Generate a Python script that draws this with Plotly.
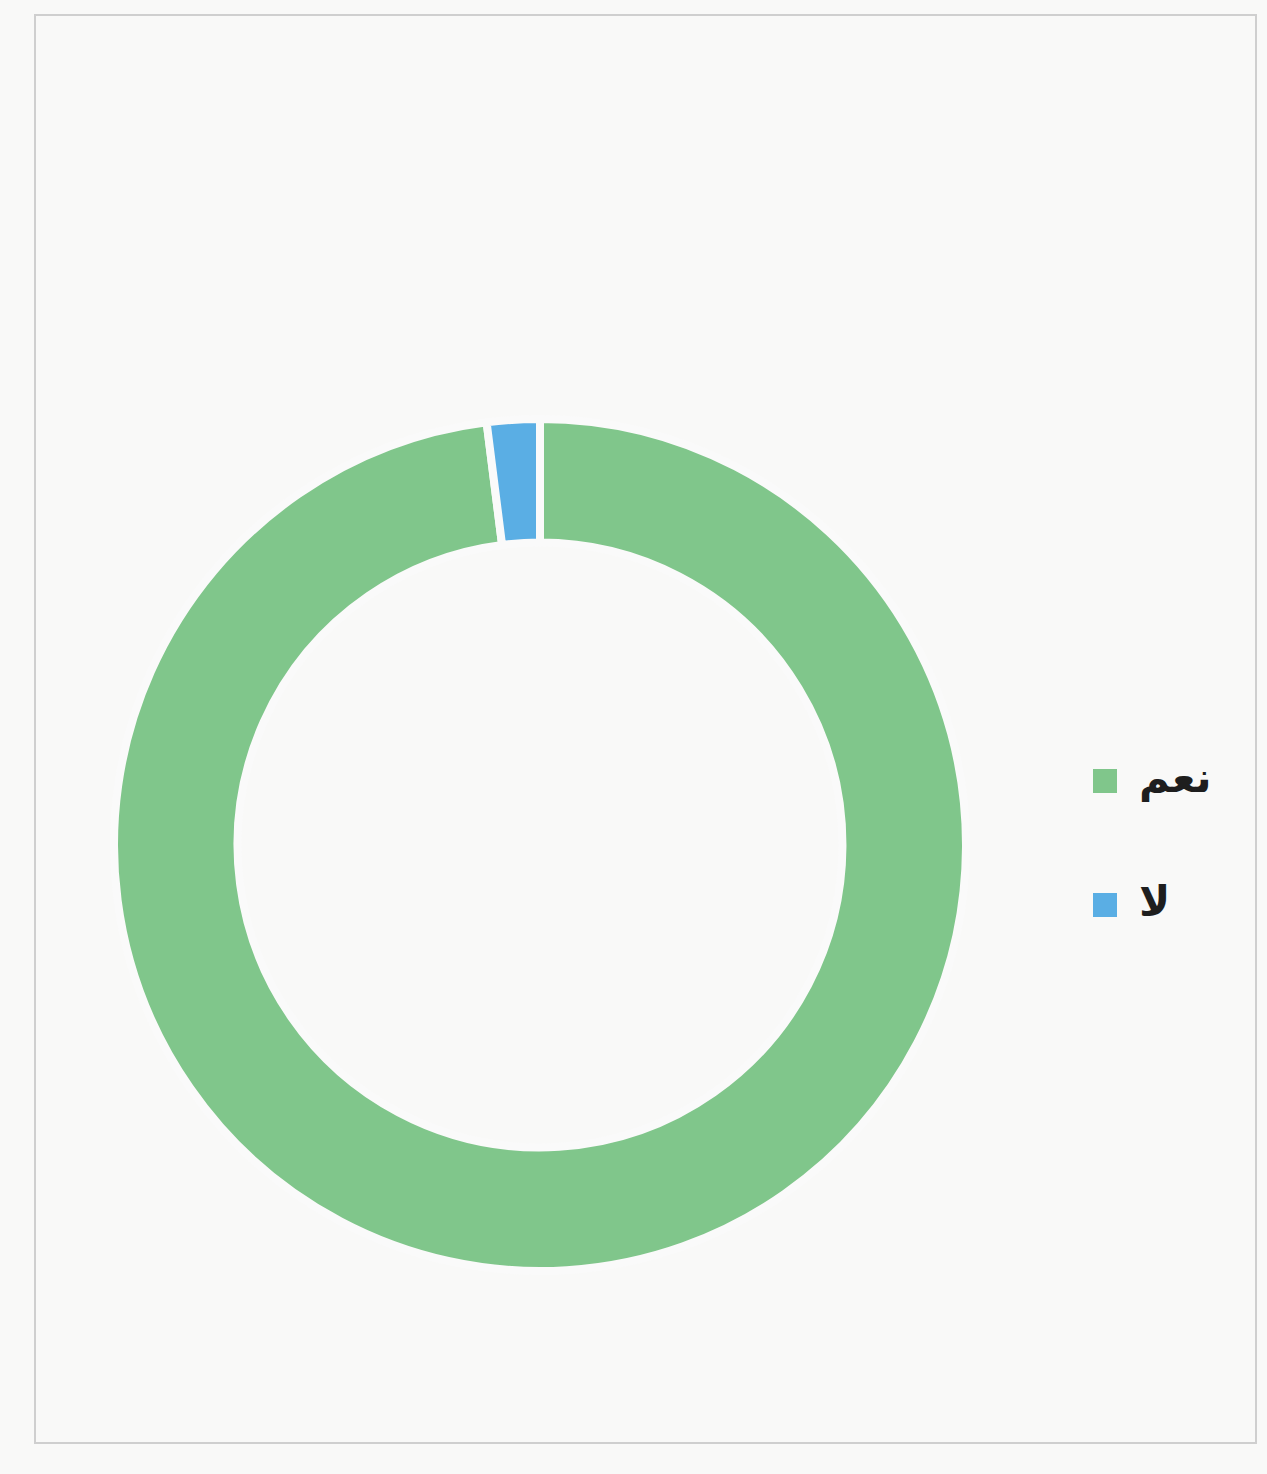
import plotly.graph_objects as go

labels = ["نعم", "لا"]
values = [98, 2]
colors = ["#80c68b", "#5aaee4"]

W, H = 1267, 1474

fig = go.Figure()
fig.add_trace(go.Pie(
    labels=labels,
    values=values,
    hole=0.71,
    sort=False,
    direction="clockwise",
    rotation=0,
    marker=dict(colors=colors, line=dict(color="#fafafa", width=8)),
    textinfo="none",
    hoverinfo="label+percent",
    showlegend=False,
    domain=dict(x=[114 / W, 966 / W], y=[1 - 1271 / H, 1 - 419 / H]),
))

# Frame
fig.add_shape(type="rect", xref="paper", yref="paper",
              x0=35 / W, x1=1256 / W, y0=1 - 1443 / H, y1=1 - 15 / H,
              line=dict(color="#cfcfcf", width=2), fillcolor="rgba(0,0,0,0)")

# Custom legend (large squares as in the reference)
leg_x = 1105
leg_y0 = 781
leg_dy = 124
for i, (lab, col) in enumerate(zip(labels, colors)):
    cy = leg_y0 + i * leg_dy
    fig.add_shape(type="rect", xref="paper", yref="paper",
                  x0=(leg_x - 12) / W, x1=(leg_x + 12) / W,
                  y0=1 - (cy + 12) / H, y1=1 - (cy - 12) / H,
                  line=dict(width=0), fillcolor=col)
    fig.add_annotation(xref="paper", yref="paper",
                       x=(leg_x + 32) / W, y=1 - (cy - 4) / H,
                       xanchor="left", yanchor="middle",
                       text="<b>" + lab + "</b>", showarrow=False,
                       font=dict(family="DejaVu Sans", size=42, color="#1e1e1e"))

fig.update_layout(
    width=W, height=H,
    margin=dict(l=0, r=0, t=0, b=0),
    paper_bgcolor="#f9f9f8",
    plot_bgcolor="#f9f9f8",
)

fig.write_html("out.html",
               config={"displayModeBar": False},
               post_script="document.body.style.margin='0';document.body.style.overflow='hidden';")
